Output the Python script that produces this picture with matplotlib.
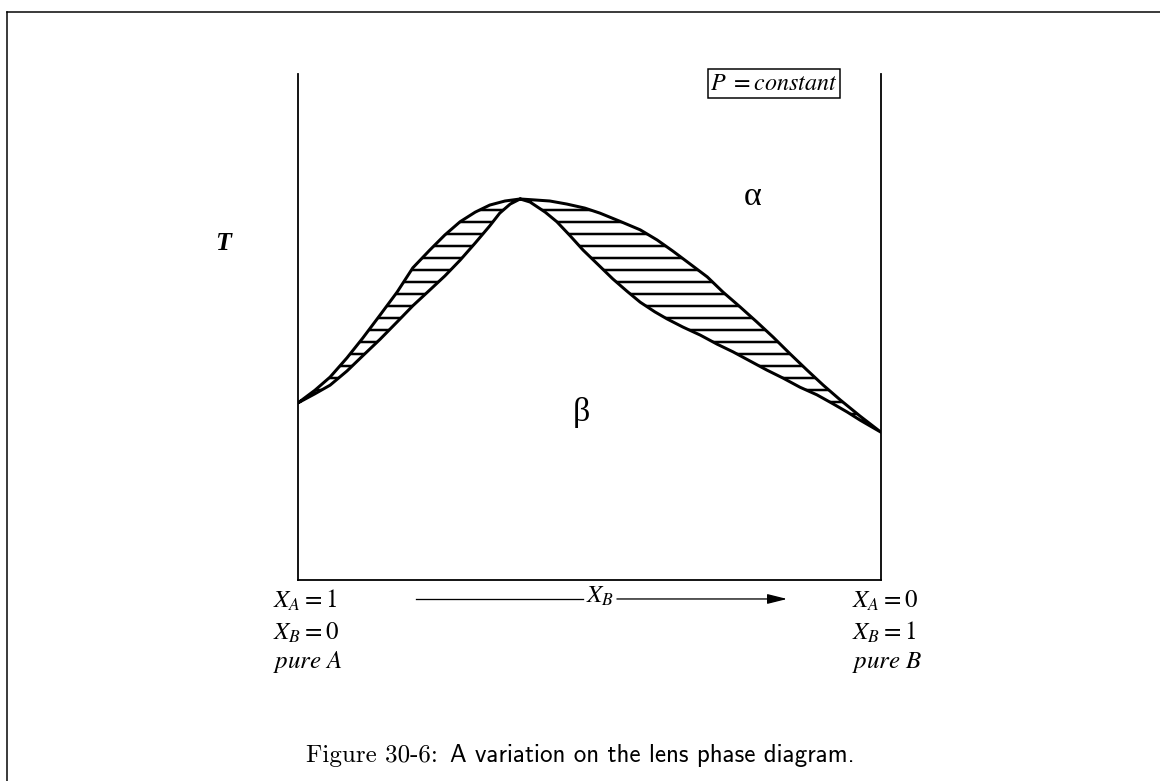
"""Lens phase diagram variation (Figure 30-6)."""
import numpy as np
from matplotlib import pyplot as plt


plt.rcParams['mathtext.fontset'] = 'stix'
plt.rcParams['hatch.linewidth'] = 2.5
plt.rcParams['hatch.color'] = 'black'

# Upper boundary (alpha side) of the two-phase lens.
XB_UPPER = np.array([0.000, 0.029, 0.055, 0.084, 0.111, 0.141, 0.170, 0.197,
                     0.226, 0.252, 0.278, 0.304, 0.329, 0.355, 0.381, 0.407,
                     0.432, 0.461, 0.492, 0.518, 0.552, 0.587, 0.616, 0.643,
                     0.672, 0.702, 0.729, 0.758, 0.787, 0.815, 0.844, 0.873,
                     0.901, 0.930, 0.964, 1.000])
T_UPPER = np.array([35.0, 37.5, 40.1, 43.9, 47.8, 52.4, 56.9, 61.7,
                    65.2, 68.2, 70.8, 72.7, 74.1, 74.9, 75.3, 75.1,
                    74.9, 74.3, 73.5, 72.5, 70.9, 69.2, 67.2, 65.0,
                    62.5, 59.9, 56.9, 54.0, 51.0, 48.0, 44.7, 41.5,
                    38.5, 35.6, 32.4, 29.2])

# Lower boundary (beta side) of the two-phase lens.
XB_LOWER = np.array([0.000, 0.029, 0.055, 0.084, 0.111, 0.141, 0.170, 0.197,
                     0.226, 0.252, 0.278, 0.304, 0.329, 0.346, 0.364, 0.381,
                     0.398, 0.424, 0.444, 0.467, 0.489, 0.515, 0.540, 0.564,
                     0.587, 0.612, 0.633, 0.660, 0.690, 0.719, 0.746, 0.775,
                     0.804, 0.832, 0.861, 0.890, 0.918, 0.942, 0.964, 1.000])
T_LOWER = np.array([35.0, 36.8, 38.5, 41.3, 44.3, 47.6, 51.0, 54.2,
                    57.3, 60.1, 63.2, 66.6, 70.0, 72.5, 74.3, 75.3,
                    74.7, 72.7, 70.8, 68.0, 65.2, 62.3, 59.5, 57.1,
                    54.9, 53.0, 51.6, 50.0, 48.4, 46.6, 45.1, 43.3,
                    41.5, 39.9, 38.1, 36.6, 34.8, 33.2, 31.6, 29.2])

LEFT_LABELS = [r'$\mathit{X_A = 1}$', r'$\mathit{X_B = 0}$', r'$\mathit{pure\ A}$']
RIGHT_LABELS = [r'$\mathit{X_A = 0}$', r'$\mathit{X_B = 1}$', r'$\mathit{pure\ B}$']
CAPTION_NUM = 'Figure 30-6:'
CAPTION_TEXT = 'A variation on the lens phase diagram.'

W, H, DPI = 1160, 781, 72
fig = plt.figure(figsize=(W / DPI, H / DPI), dpi=DPI)
ax = fig.add_axes([298 / W, 1 - 580 / H, 583 / W, 506 / H])

# the lens itself, hatched with horizontal tie lines
xs = np.r_[XB_UPPER, XB_LOWER[::-1]]
ts = np.r_[T_UPPER, T_LOWER[::-1]]
ax.fill(xs, ts, facecolor='white', edgecolor='black', hatch='-',
        linewidth=3, joinstyle='round')

ax.set_xlim(0, 1)
ax.set_ylim(0, 100)
ax.set_xticks([])
ax.set_yticks([])
ax.spines['top'].set_visible(False)
for side in ('left', 'right', 'bottom'):
    ax.spines[side].set_linewidth(1.8)

serif = ['Liberation Serif', 'DejaVu Serif']
ax.text(-0.129, 66.6, 'T', family=serif, style='italic', weight='bold',
        fontsize=26, ha='center', va='center', clip_on=False)
ax.text(0.780, 75.7, '\u03b1', family=serif, fontsize=34,
        ha='center', va='center')
ax.text(0.487, 33.2, '\u03b2', family=serif, fontsize=34,
        ha='center', va='center')
ax.text(0.816, 98.2, '$\\mathit{P\\ =constant}$', fontsize=24,
        ha='center', va='center', clip_on=False,
        bbox=dict(boxstyle='square,pad=0.1', facecolor='white',
                  edgecolor='black', linewidth=1.5))

# composition axis labels
baselines = [-5.5, -11.7, -17.4]
for label, y in zip(LEFT_LABELS, baselines):
    ax.text(-0.043, y, label, fontsize=25, ha='left', va='baseline',
            clip_on=False)
for label, y in zip(RIGHT_LABELS, baselines):
    ax.text(0.950, y, label, fontsize=25, ha='left', va='baseline',
            clip_on=False)

arrow_y = -3.75
ax.plot([0.202, 0.489], [arrow_y, arrow_y], color='black', linewidth=1.3,
        clip_on=False)
ax.annotate('', xy=(0.839, arrow_y), xytext=(0.547, arrow_y),
            annotation_clip=False,
            arrowprops=dict(arrowstyle='-|>,head_length=1.2,head_width=0.3',
                            color='black', linewidth=1.3, mutation_scale=14,
                            shrinkA=0, shrinkB=0))
ax.text(0.518, -4.5, r'$\mathit{X_B}$', fontsize=25, ha='center',
        va='baseline', clip_on=False)

# page frame (top and left edges only)
fig.add_artist(plt.Line2D([7 / W, 1], [1 - 12 / H, 1 - 12 / H],
                          color='black', linewidth=1.5))
fig.add_artist(plt.Line2D([7 / W, 7 / W], [0, 1 - 12 / H],
                          color='black', linewidth=1.5))

# caption: roman figure number, sans-serif text, centred together
cap_y = 1 - 762 / H
t1 = fig.text(0.3, cap_y, CAPTION_NUM, family='cmr10', fontsize=25,
              ha='left', va='baseline')
t2 = fig.text(0.5, cap_y, CAPTION_TEXT, family='cmss10', fontsize=25,
              ha='left', va='baseline')
fig.canvas.draw()
r = fig.canvas.get_renderer()
w1 = t1.get_window_extent(r).width
w2 = t2.get_window_extent(r).width
gap = 12
x0 = (580 - (w1 + gap + w2) / 2)
t1.set_x(x0 / W)
t2.set_x((x0 + w1 + gap) / W)

fig.savefig('out.png', dpi=DPI, facecolor='white')
